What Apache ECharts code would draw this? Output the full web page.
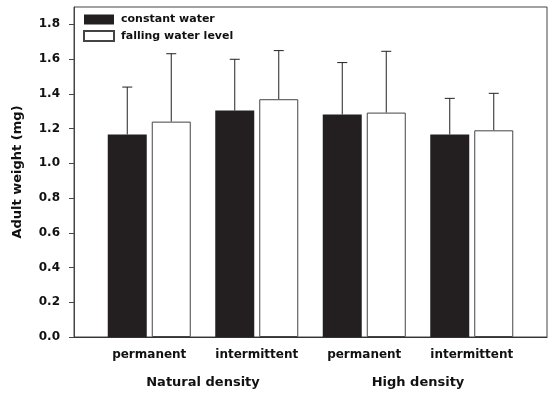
<!DOCTYPE html>
<html>
<head>
<meta charset="utf-8">
<script src="https://cdn.jsdelivr.net/npm/echarts@6/dist/echarts.min.js"></script>
<style>html,body{margin:0;padding:0;background:#fff}#c{width:552px;height:394px}</style>
</head>
<body>
<div id="c"></div>
<script>
// ---- data ----
const groupLabels = ['permanent', 'intermittent', 'permanent', 'intermittent'];
const groupPositions = [1, 2, 3, 4];
const densityLabels = ['Natural density', 'High density'];
const densityPositions = [1.5, 3.5];
const seriesNames = ['constant water', 'falling water level'];
const constantMean = [1.166, 1.304, 1.281, 1.166];
const constantUpper = [1.439, 1.599, 1.580, 1.374];
const fallingMean = [1.240, 1.369, 1.292, 1.190];
const fallingUpper = [1.631, 1.649, 1.645, 1.403];
const yTicks = [0, 0.2, 0.4, 0.6, 0.8, 1.0, 1.2, 1.4, 1.6, 1.8];

const FONT = '"DejaVu Sans", sans-serif';
const BAR_W = 39;
const GAP = 5;
const OFF = (BAR_W + GAP) / 2;

function barData(means) { return groupPositions.map((x, i) => [x, means[i]]); }
function errData(means, uppers) { return groupPositions.map((x, i) => [x, means[i], uppers[i]]); }

function errRender(offset) {
  return function (params, api) {
    const p = api.coord([api.value(0), api.value(1)]);
    const q = api.coord([api.value(0), api.value(2)]);
    const x = p[0] + offset;
    const st = { stroke: '#222', lineWidth: 1 };
    return {
      type: 'group',
      children: [
        { type: 'line', shape: { x1: x, y1: p[1], x2: x, y2: q[1] }, style: st },
        { type: 'line', shape: { x1: x - 5, y1: q[1], x2: x + 5, y2: q[1] }, style: st }
      ]
    };
  };
}

const chart = echarts.init(document.getElementById('c'), null, { renderer: 'canvas' });
chart.setOption({
  animation: false,
  backgroundColor: '#fff',
  textStyle: { fontFamily: FONT },
  grid: { left: 74, right: 5, top: 7, bottom: 57, show: true, borderColor: '#444', borderWidth: 1, backgroundColor: 'transparent' },
  legend: {
    orient: 'vertical', left: 78, top: 9, itemWidth: 30, itemHeight: 10, itemGap: 5,
    icon: 'rect',
    textStyle: { fontFamily: FONT, fontWeight: 'bold', fontSize: 11, color: '#111', padding: [0, 0, 0, 2] },
    data: seriesNames
  },
  xAxis: [
    {
      type: 'value', min: 0.3, max: 4.7, position: 'bottom',
      splitLine: { show: false },
      axisLine: { show: true, onZero: false, lineStyle: { color: '#333', width: 1 } },
      axisTick: { show: false },
      axisLabel: {
        customValues: groupPositions, margin: 12,
        formatter: v => groupLabels[groupPositions.indexOf(v)],
        fontFamily: FONT, fontWeight: 'bold', fontSize: 12, color: '#111'
      }
    },
    {
      type: 'value', min: 0.3, max: 4.7, position: 'bottom', offset: 28,
      splitLine: { show: false },
      axisLine: { show: false },
      axisTick: { show: false },
      axisLabel: {
        customValues: densityPositions, margin: 11,
        formatter: v => densityLabels[densityPositions.indexOf(v)],
        fontFamily: FONT, fontWeight: 'bold', fontSize: 13, color: '#111'
      }
    }
  ],
  yAxis: {
    type: 'value', min: 0, max: 1.9,
    name: 'Adult weight (mg)', nameLocation: 'middle', nameGap: 50,
    nameTextStyle: { fontFamily: FONT, fontWeight: 'bold', fontSize: 13, color: '#111' },
    splitLine: { show: false },
    axisLine: { show: true, lineStyle: { color: '#444', width: 1 } },
    axisTick: { show: true, length: 5, customValues: yTicks, lineStyle: { color: '#444' } },
    axisLabel: {
      customValues: yTicks, margin: 14,
      formatter: v => v.toFixed(1),
      fontFamily: FONT, fontWeight: 'bold', fontSize: 12, color: '#111'
    }
  },
  series: [
    {
      name: seriesNames[0], type: 'bar', xAxisIndex: 0, barWidth: BAR_W, barGap: (GAP / BAR_W * 100) + '%',
      itemStyle: { color: '#231f20', borderColor: '#231f20', borderWidth: 0 },
      data: barData(constantMean), z: 3
    },
    {
      name: seriesNames[1], type: 'bar', xAxisIndex: 0, barWidth: BAR_W, barGap: (GAP / BAR_W * 100) + '%',
      itemStyle: { color: '#ffffff', borderColor: '#444', borderWidth: 1 },
      data: barData(fallingMean), z: 3
    },
    {
      type: 'custom', xAxisIndex: 0, renderItem: errRender(-OFF), silent: true, z: 2,
      data: errData(constantMean, constantUpper)
    },
    {
      type: 'custom', xAxisIndex: 0, renderItem: errRender(OFF), silent: true, z: 2,
      data: errData(fallingMean, fallingUpper)
    }
  ]
});
</script>
</body>
</html>
